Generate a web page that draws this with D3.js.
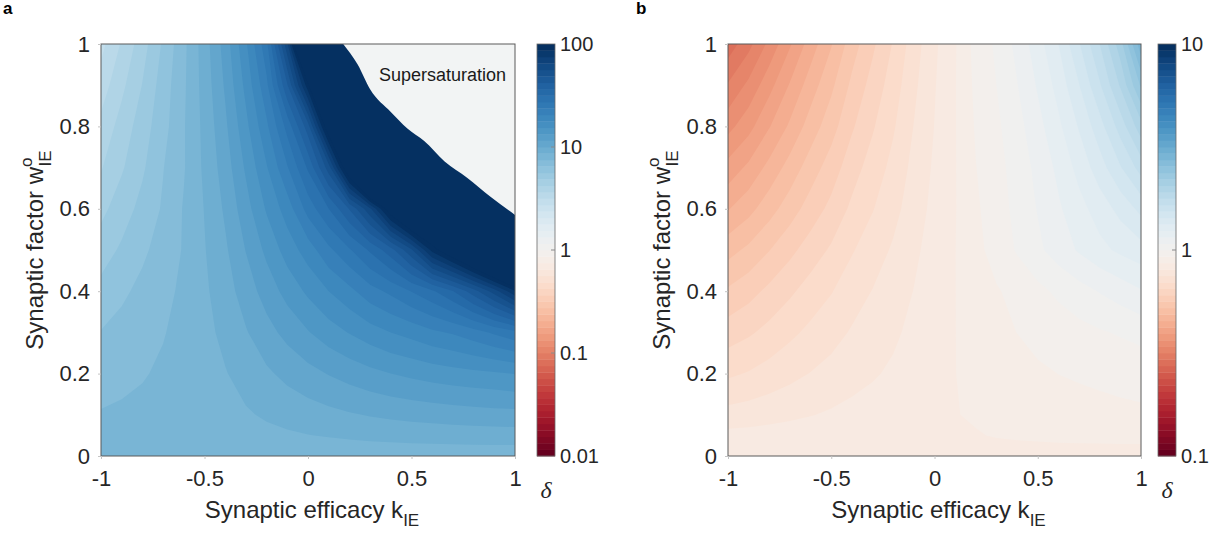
<!DOCTYPE html>
<html>
<head>
<meta charset="utf-8">
<script src="https://cdn.jsdelivr.net/npm/d3@7"></script>
<style>
  body { margin: 0; background: #fff; }
  text { font-family: "Liberation Sans", Arial, Helvetica, sans-serif; fill: #262626; }
  .delta { font-family: "Liberation Serif", "DejaVu Serif", serif; font-style: italic; }
</style>
</head>
<body>
<svg id="chart" width="1225" height="540"></svg>
<script>
// Synaptic efficacy k_IE sample positions (columns of both grids)
const kGrid = [-1, -0.9, -0.8, -0.7, -0.6, -0.5, -0.4, -0.3, -0.2, -0.1, 0,
               0.1, 0.2, 0.3, 0.4, 0.5, 0.6, 0.7, 0.8, 0.9, 1];
// Synaptic factor w°_IE sample positions (rows, top to bottom)
const wGrid = [1, 0.9, 0.8, 0.7, 0.6, 0.5, 0.4, 0.3, 0.2, 0.1, 0.05, 0];

// Panel a: log10(δ); values above 2 are saturated (δ ≥ 100)
const logDeltaA = [
  [0.48, 0.57, 0.66, 0.76, 0.86, 0.97, 1.09, 1.24, 1.42, 1.80, 2.50, 3.0, 3.0, 3.0, 3.0, 3.0, 3.0, 3.0, 3.0, 3.0, 3.0],
  [0.53, 0.61, 0.69, 0.78, 0.865, 0.963, 1.071, 1.206, 1.36, 1.62, 1.98, 2.6, 3.0, 3.0, 3.0, 3.0, 3.0, 3.0, 3.0, 3.0, 3.0],
  [0.58, 0.65, 0.72, 0.79, 0.87, 0.955, 1.05, 1.17, 1.30, 1.46, 1.66, 2.08, 2.6, 3.0, 3.0, 3.0, 3.0, 3.0, 3.0, 3.0, 3.0],
  [0.62, 0.68, 0.74, 0.81, 0.87, 0.95, 1.03, 1.135, 1.245, 1.37, 1.51, 1.72, 2.12, 2.6, 3.0, 3.0, 3.0, 3.0, 3.0, 3.0, 3.0],
  [0.67, 0.72, 0.77, 0.82, 0.88, 0.94, 1.01, 1.10, 1.195, 1.28, 1.40, 1.50, 1.63, 1.80, 2.07, 2.3, 2.3, 2.6, 3.0, 3.0, 3.0],
  [0.72, 0.76, 0.80, 0.84, 0.88, 0.934, 0.99, 1.065, 1.14, 1.215, 1.28, 1.36, 1.43, 1.51, 1.60, 1.74, 1.96, 2.1, 2.27, 2.47, 2.63],
  [0.77, 0.80, 0.83, 0.857, 0.888, 0.927, 0.972, 1.03, 1.09, 1.147, 1.20, 1.25, 1.295, 1.35, 1.39, 1.44, 1.49, 1.56, 1.66, 1.78, 1.93],
  [0.815, 0.834, 0.852, 0.872, 0.892, 0.92, 0.953, 0.995, 1.04, 1.082, 1.121, 1.158, 1.191, 1.222, 1.25, 1.272, 1.30, 1.32, 1.35, 1.385, 1.42],
  [0.85, 0.86, 0.871, 0.883, 0.895, 0.913, 0.934, 0.961, 0.99, 1.017, 1.042, 1.066, 1.087, 1.107, 1.125, 1.139, 1.152, 1.163, 1.172, 1.179, 1.19],
  [0.879, 0.884, 0.888, 0.893, 0.898, 0.906, 0.917, 0.931, 0.945, 0.959, 0.971, 0.983, 0.994, 1.004, 1.013, 1.02, 1.026, 1.031, 1.036, 1.04, 1.042],
  [0.892, 0.893, 0.895, 0.897, 0.899, 0.903, 0.909, 0.915, 0.923, 0.929, 0.936, 0.941, 0.947, 0.952, 0.956, 0.96, 0.963, 0.966, 0.968, 0.97, 0.971],
  [0.9, 0.9, 0.9, 0.9, 0.9, 0.9, 0.9, 0.9, 0.9, 0.9, 0.9, 0.9, 0.9, 0.9, 0.9, 0.9, 0.9, 0.9, 0.9, 0.9, 0.9]
];

// Panel b: log10(δ)
const logDeltaB = [
  [-0.55, -0.51, -0.46, -0.41, -0.36, -0.315, -0.265, -0.225, -0.185, -0.14, -0.10, -0.065, -0.02, 0.005, 0.04, 0.08, 0.125, 0.185, 0.25, 0.33, 0.46],
  [-0.497, -0.461, -0.417, -0.372, -0.328, -0.288, -0.243, -0.207, -0.172, -0.132, -0.096, -0.064, -0.024, 0.0, 0.03, 0.066, 0.105, 0.155, 0.215, 0.285, 0.38],
  [-0.448, -0.417, -0.377, -0.338, -0.298, -0.263, -0.223, -0.191, -0.16, -0.124, -0.093, -0.064, -0.028, -0.006, 0.02, 0.052, 0.087, 0.128, 0.175, 0.232, 0.30],
  [-0.395, -0.368, -0.334, -0.30, -0.266, -0.235, -0.201, -0.174, -0.147, -0.116, -0.089, -0.064, -0.032, -0.011, 0.013, 0.04, 0.07, 0.104, 0.142, 0.185, 0.232],
  [-0.346, -0.323, -0.294, -0.265, -0.236, -0.21, -0.181, -0.158, -0.135, -0.109, -0.085, -0.064, -0.036, -0.015, 0.009, 0.033, 0.058, 0.083, 0.108, 0.135, 0.165],
  [-0.293, -0.274, -0.251, -0.227, -0.204, -0.183, -0.159, -0.14, -0.121, -0.10, -0.081, -0.063, -0.04, -0.019, 0.003, 0.025, 0.046, 0.066, 0.085, 0.1, 0.112],
  [-0.245, -0.23, -0.211, -0.193, -0.174, -0.158, -0.139, -0.124, -0.109, -0.093, -0.078, -0.063, -0.045, -0.034, -0.022, -0.008, 0.006, 0.02, 0.033, 0.046, 0.06],
  [-0.203, -0.192, -0.178, -0.163, -0.149, -0.136, -0.122, -0.111, -0.099, -0.086, -0.075, -0.063, -0.048, -0.038, -0.031, -0.024, -0.017, -0.01, -0.003, 0.003, 0.01],
  [-0.162, -0.154, -0.144, -0.134, -0.124, -0.115, -0.105, -0.097, -0.089, -0.08, -0.072, -0.063, -0.052, -0.045, -0.04, -0.035, -0.031, -0.028, -0.025, -0.022, -0.02],
  [-0.114, -0.11, -0.105, -0.10, -0.095, -0.09, -0.085, -0.081, -0.077, -0.073, -0.069, -0.064, -0.058, -0.053, -0.05, -0.047, -0.044, -0.042, -0.04, -0.038, -0.036],
  [-0.084, -0.083, -0.081, -0.079, -0.077, -0.075, -0.073, -0.071, -0.07, -0.068, -0.066, -0.067, -0.065, -0.06, -0.057, -0.055, -0.053, -0.052, -0.051, -0.05, -0.05],
  [-0.08, -0.08, -0.08, -0.08, -0.08, -0.08, -0.08, -0.08, -0.08, -0.08, -0.08, -0.08, -0.08, -0.08, -0.08, -0.08, -0.08, -0.08, -0.08, -0.08, -0.08]
];

// Edge of the supersaturated region in panel a, as (k, w) pairs
const supersatEdge = [
  [0.17, 1.0], [0.24, 0.95], [0.30, 0.89], [0.40, 0.835], [0.48, 0.795],
  [0.56, 0.765], [0.66, 0.715], [0.77, 0.675], [0.88, 0.63], [1.0, 0.585]
];

const xTicks = [-1, -0.5, 0, 0.5, 1];
const yTicks = [0, 0.2, 0.4, 0.6, 0.8, 1];
const colorTicksA = [0.01, 0.1, 1, 10, 100];
const colorTicksB = [0.1, 1, 10];

const svg = d3.select("#chart");
const N_COLORS = 64;
const cmap = i => d3.interpolateRdBu(Math.max(0, Math.min(i, N_COLORS - 1)) / (N_COLORS - 1));

function drawPanel(cfg) {
  const g = svg.append("g");
  const x = d3.scaleLinear().domain([-1, 1]).range([cfg.left, cfg.right]);
  const y = d3.scaleLinear().domain([0, 1]).range([cfg.bottom, cfg.top]);

  // grid index -> data coordinate (sample values sit at cell centres)
  const colToK = d3.scaleLinear().domain(kGrid.map((_, i) => i + 0.5)).range(kGrid).clamp(true);
  const rowToW = d3.scaleLinear().domain(wGrid.map((_, j) => j + 0.5)).range(wGrid).clamp(true);
  const proj = d3.geoTransform({
    point(px, py) { this.stream.point(x(colToK(px)), y(rowToW(py))); }
  });
  const path = d3.geoPath(proj);

  const logLo = Math.log10(cfg.dmin), logHi = Math.log10(cfg.dmax);
  const step = (logHi - logLo) / N_COLORS;
  const thresholds = d3.range(0, N_COLORS + 1).map(i => logLo + i * step);
  const bands = d3.contours()
    .size([kGrid.length, wGrid.length])
    .thresholds(thresholds)(cfg.values.flat());

  const clipId = "clip-" + cfg.id;
  g.append("clipPath").attr("id", clipId)
    .append("rect")
    .attr("x", cfg.left).attr("y", cfg.top)
    .attr("width", cfg.right - cfg.left).attr("height", cfg.bottom - cfg.top);

  const field = g.append("g").attr("clip-path", `url(#${clipId})`);
  field.selectAll("path.band")
    .data(bands)
    .join("path")
    .attr("class", "band")
    .attr("d", path)
    .attr("fill", d => cmap(Math.round((d.value - logLo) / step)));

  if (cfg.supersat) {
    const edge = d3.line().x(d => x(d[0])).y(d => y(d[1])).curve(d3.curveMonotoneX)(cfg.supersat);
    field.append("path")
      .attr("d", `${edge}L${x(1)},${y(1)}Z`)
      .attr("fill", "#f2f4f4");
    g.append("text")
      .attr("x", x(0.65)).attr("y", cfg.top + 37)
      .attr("text-anchor", "middle")
      .attr("font-size", 18)
      .style("fill", "#1a1a1a")
      .text("Supersaturation");
  }

  // frame
  g.append("rect")
    .attr("x", cfg.left).attr("y", cfg.top)
    .attr("width", cfg.right - cfg.left).attr("height", cfg.bottom - cfg.top)
    .attr("fill", "none").attr("stroke", "#5a5a5a").attr("stroke-width", 1);

  // axes
  const gx = g.append("g")
    .attr("transform", `translate(0,${cfg.bottom})`)
    .call(d3.axisBottom(x).tickValues(xTicks).tickFormat(d => String(d)).tickSize(3).tickPadding(11));
  gx.select(".domain").remove();
  gx.selectAll(".tick line").attr("stroke", "#c4c4c4");
  gx.selectAll(".tick text").attr("font-size", 22);

  const gy = g.append("g")
    .attr("transform", `translate(${cfg.left},0)`)
    .call(d3.axisLeft(y).tickValues(yTicks).tickFormat(d => String(d)).tickSize(3).tickPadding(8));
  gy.select(".domain").remove();
  gy.selectAll(".tick line").attr("stroke", "#c4c4c4");
  gy.selectAll(".tick text").attr("font-size", 22);

  // axis titles
  const xt = g.append("text")
    .attr("x", (cfg.left + cfg.right) / 2 + 4).attr("y", cfg.bottom + 62)
    .attr("text-anchor", "middle").attr("font-size", 24);
  xt.append("tspan").text("Synaptic efficacy k");
  xt.append("tspan").attr("dy", 8).attr("font-size", 17).text("IE");

  const cy = (cfg.top + cfg.bottom) / 2;
  const yt = g.append("text")
    .attr("transform", `translate(${cfg.left - 58},${cy}) rotate(-90)`)
    .attr("text-anchor", "middle").attr("font-size", 24);
  yt.append("tspan").text("Synaptic factor w");
  yt.append("tspan").attr("dy", -11).attr("font-size", 17).text("o");
  yt.append("tspan").attr("dx", -9).attr("dy", 19).attr("font-size", 17).text("IE");

  // colour bar
  const cbX = cfg.cbX, cbW = 18;
  const cs = d3.scaleLog().domain([cfg.dmin, cfg.dmax]).range([cfg.bottom, cfg.top]);
  const cbLevels = d3.range(0, N_COLORS);
  const segH = (cfg.bottom - cfg.top) / N_COLORS;
  g.append("g").selectAll("rect")
    .data(cbLevels)
    .join("rect")
    .attr("x", cbX)
    .attr("y", i => cfg.bottom - (i + 1) * segH)
    .attr("width", cbW)
    .attr("height", segH + 0.4)
    .attr("fill", i => cmap(i));
  g.append("rect")
    .attr("x", cbX).attr("y", cfg.top)
    .attr("width", cbW).attr("height", cfg.bottom - cfg.top)
    .attr("fill", "none").attr("stroke", "#6a6a6a").attr("stroke-width", 0.8);

  const innerTicks = cfg.cbTicks.slice(1, -1);
  g.append("g").selectAll("line")
    .data(innerTicks)
    .join("line")
    .attr("x1", cbX + cbW - 4).attr("x2", cbX + cbW)
    .attr("y1", d => cs(d)).attr("y2", d => cs(d))
    .attr("stroke", "#8a8a8a").attr("stroke-width", 1);

  const gc = g.append("g")
    .attr("transform", `translate(${cbX + cbW},0)`)
    .call(d3.axisRight(cs).tickValues(cfg.cbTicks).tickFormat(d => String(d)).tickSize(0).tickPadding(5));
  gc.select(".domain").remove();
  gc.selectAll(".tick text").attr("font-size", 20);

  g.append("text")
    .attr("class", "delta")
    .attr("x", cbX + cbW / 2).attr("y", cfg.bottom + 42)
    .attr("text-anchor", "middle").attr("font-size", 24)
    .text("δ");

  // panel letter
  svg.append("text")
    .attr("x", cfg.letterX).attr("y", 14)
    .attr("font-size", 17).attr("font-weight", "bold")
    .style("fill", "#000")
    .text(cfg.letter);
}

drawPanel({
  id: "a", letter: "a", letterX: 3,
  left: 101, right: 515, top: 44, bottom: 456,
  cbX: 537, values: logDeltaA, dmin: 0.01, dmax: 100,
  cbTicks: colorTicksA, supersat: supersatEdge
});

drawPanel({
  id: "b", letter: "b", letterX: 636,
  left: 728, right: 1141, top: 44, bottom: 456,
  cbX: 1158, values: logDeltaB, dmin: 0.1, dmax: 10,
  cbTicks: colorTicksB, supersat: null
});
</script>
</body>
</html>
